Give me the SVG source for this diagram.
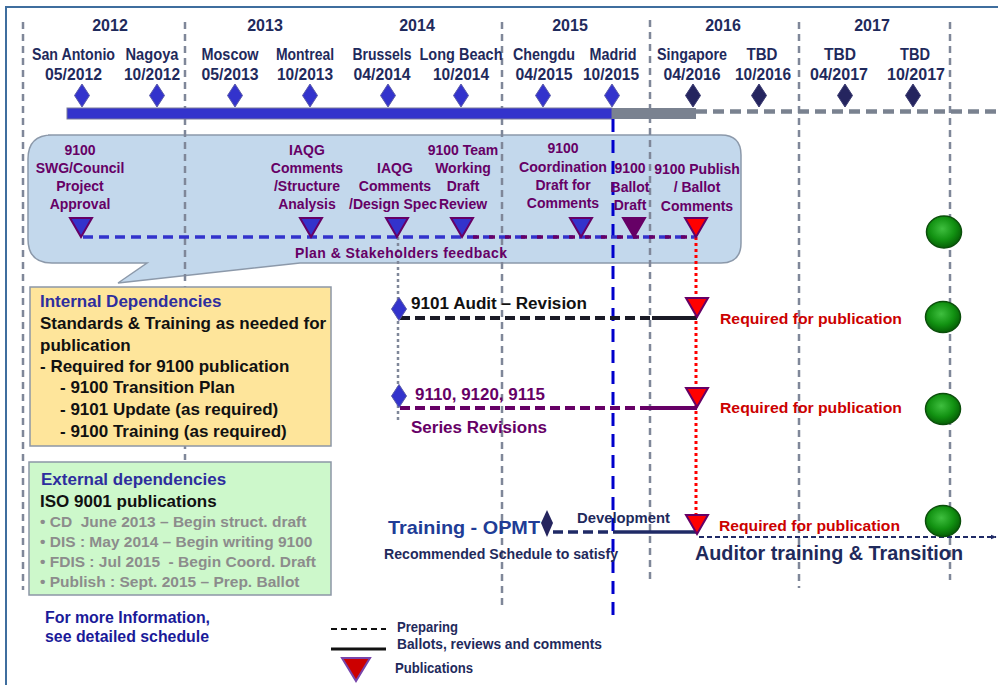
<svg xmlns="http://www.w3.org/2000/svg" xmlns:xlink="http://www.w3.org/1999/xlink" width="998" height="685" viewBox="0 0 998 685">
<defs>
<style>
text{font-family:"Liberation Sans",Arial,sans-serif;font-weight:bold}
.yr{font-size:16px;fill:#1F2A5C;text-anchor:middle}
.ct{font-size:16px;fill:#1F2A5C;text-anchor:middle}
.cl{font-size:14px;fill:#660066;text-anchor:middle}
.div{stroke:#7F8799;stroke-width:2.5;stroke-dasharray:7 5;fill:none}
.dmB{fill:#3333CC;stroke:#5A5AA8;stroke-width:1}
.dmN{fill:#25255F;stroke:#3A3A70;stroke-width:1}
.triB{fill:#3333CC;stroke:#660066;stroke-width:2}
.triP{fill:#660066;stroke:#660066;stroke-width:2}
.triR{fill:#FF0000;stroke:#660066;stroke-width:2}
.req{font-size:15px;fill:#CC0000}
.bk{font-size:17px;fill:#111111}
.hd{font-size:17px;fill:#2E2E9E}
.gy{font-size:15.5px;fill:#8C8C8C;white-space:pre}
.ball{fill:url(#gg);stroke:#0B4F0B;stroke-width:1.5}
</style>
<path id="dia" d="M0,-11.5 L7.5,0 L0,11.5 L-7.5,0 Z"/>
<path id="tri" d="M-11,0 H11 L0,19 Z"/>
<radialGradient id="gg" cx="0.45" cy="0.4" r="0.65">
<stop offset="0" stop-color="#3FBF3F"/>
<stop offset="0.55" stop-color="#129212"/>
<stop offset="1" stop-color="#035503"/>
</radialGradient>
<marker id="arr" viewBox="0 0 10 10" refX="9" refY="5" markerWidth="6" markerHeight="6" orient="auto" markerUnits="userSpaceOnUse">
<path d="M0,1 L10,5 L0,9 Z" fill="#1F2A66"/>
</marker>
</defs>

<rect x="0" y="0" width="998" height="685" fill="#FFFFFF"/>
<path d="M6,685 V7 H998" fill="none" stroke="#3F6E9E" stroke-width="2"/>

<g id="callout">
<path d="M48,135 H721 Q741,135 741,155 V243 Q741,263 721,263 H300 L118,283 L147,263 H52 Q28,263 28,239 V159 Q28,135 52,135 Z" fill="#C3D8EC" stroke="#8C99AA" stroke-width="1.5"/>
</g>

<g id="dividers">
<line class="div" x1="23" y1="22" x2="23" y2="590"/>
<line class="div" x1="185" y1="22" x2="185" y2="460"/>
<line class="div" x1="502" y1="22" x2="502" y2="610"/>
<line class="div" x1="650" y1="20" x2="650" y2="584"/>
<line class="div" x1="799" y1="22" x2="799" y2="588"/>
<line class="div" x1="950" y1="22" x2="950" y2="580"/>
</g>

<g id="years">
<text class="yr" x="110" y="31">2012</text>
<text class="yr" x="265" y="31">2013</text>
<text class="yr" x="417" y="31">2014</text>
<text class="yr" x="570" y="31">2015</text>
<text class="yr" x="723" y="31">2016</text>
<text class="yr" x="872" y="31">2017</text>
</g>

<g id="meetings">
<text class="ct" x="73.5" y="60" textLength="83" lengthAdjust="spacingAndGlyphs">San Antonio</text>
<text class="ct" x="73.5" y="80" textLength="57" lengthAdjust="spacingAndGlyphs">05/2012</text>
<text class="ct" x="152" y="60" textLength="53" lengthAdjust="spacingAndGlyphs">Nagoya</text>
<text class="ct" x="152" y="80" textLength="56" lengthAdjust="spacingAndGlyphs">10/2012</text>
<text class="ct" x="230" y="60" textLength="57" lengthAdjust="spacingAndGlyphs">Moscow</text>
<text class="ct" x="230" y="80" textLength="57" lengthAdjust="spacingAndGlyphs">05/2013</text>
<text class="ct" x="305" y="60" textLength="58" lengthAdjust="spacingAndGlyphs">Montreal</text>
<text class="ct" x="305" y="80" textLength="56" lengthAdjust="spacingAndGlyphs">10/2013</text>
<text class="ct" x="382" y="60" textLength="59" lengthAdjust="spacingAndGlyphs">Brussels</text>
<text class="ct" x="382" y="80" textLength="57" lengthAdjust="spacingAndGlyphs">04/2014</text>
<text class="ct" x="461" y="60" textLength="83" lengthAdjust="spacingAndGlyphs">Long Beach</text>
<text class="ct" x="461" y="80" textLength="56" lengthAdjust="spacingAndGlyphs">10/2014</text>
<text class="ct" x="544" y="60" textLength="62" lengthAdjust="spacingAndGlyphs">Chengdu</text>
<text class="ct" x="544" y="80" textLength="57" lengthAdjust="spacingAndGlyphs">04/2015</text>
<text class="ct" x="613" y="60" textLength="47" lengthAdjust="spacingAndGlyphs">Madrid</text>
<text class="ct" x="611" y="80" textLength="56" lengthAdjust="spacingAndGlyphs">10/2015</text>
<text class="ct" x="692" y="60" textLength="70" lengthAdjust="spacingAndGlyphs">Singapore</text>
<text class="ct" x="692" y="80" textLength="57" lengthAdjust="spacingAndGlyphs">04/2016</text>
<text class="ct" x="762" y="60" textLength="31" lengthAdjust="spacingAndGlyphs">TBD</text>
<text class="ct" x="763" y="80" textLength="56" lengthAdjust="spacingAndGlyphs">10/2016</text>
<text class="ct" x="840" y="60" textLength="32" lengthAdjust="spacingAndGlyphs">TBD</text>
<text class="ct" x="839" y="80" textLength="58" lengthAdjust="spacingAndGlyphs">04/2017</text>
<text class="ct" x="915" y="60" textLength="30" lengthAdjust="spacingAndGlyphs">TBD</text>
<text class="ct" x="916" y="80" textLength="58" lengthAdjust="spacingAndGlyphs">10/2017</text>
</g>

<g id="timeline-bar">
<rect x="67" y="108" width="545" height="11" fill="#3333CC" stroke="#7A7A9A" stroke-width="1"/>
<rect x="612" y="108" width="84" height="11" fill="#7A8290"/>
<line x1="696" y1="111.5" x2="998" y2="111.5" stroke="#7A8290" stroke-width="4.5" stroke-dasharray="11 6"/>
</g>

<g id="meeting-diamonds">
<use href="#dia" class="dmB" x="82" y="95.5"/>
<use href="#dia" class="dmB" x="157" y="95.5"/>
<use href="#dia" class="dmB" x="235" y="95.5"/>
<use href="#dia" class="dmB" x="310" y="95.5"/>
<use href="#dia" class="dmB" x="388" y="95.5"/>
<use href="#dia" class="dmB" x="461" y="95.5"/>
<use href="#dia" class="dmB" x="543" y="95.5"/>
<use href="#dia" class="dmB" x="612" y="95.5"/>
<use href="#dia" class="dmN" x="693" y="95.5"/>
<use href="#dia" class="dmN" x="759" y="95.5"/>
<use href="#dia" class="dmN" x="845" y="95.5"/>
<use href="#dia" class="dmN" x="913" y="95.5"/>
</g>

<g id="connectors">
<line x1="613" y1="119" x2="613" y2="615" stroke="#0000CC" stroke-width="3" stroke-dasharray="13 8"/>
<line x1="398" y1="237" x2="398" y2="420" stroke="#7F8799" stroke-width="2.5" stroke-dasharray="3 3"/>
<line x1="83" y1="237" x2="696" y2="237" stroke="#3333CC" stroke-width="3.5" stroke-dasharray="10 6"/>
<line x1="463" y1="237" x2="690" y2="237" stroke="#660066" stroke-width="3.5" stroke-dasharray="6 10" stroke-dashoffset="-10"/>
<line x1="696" y1="237" x2="696" y2="515" stroke="#FF0000" stroke-width="3" stroke-dasharray="3 3"/>
<line x1="400" y1="318" x2="652" y2="318" stroke="#1A1A26" stroke-width="4" stroke-dasharray="10 5"/>
<line x1="652" y1="318" x2="697" y2="318" stroke="#1A1A26" stroke-width="4"/>
<line x1="400" y1="408" x2="648" y2="408" stroke="#660066" stroke-width="4" stroke-dasharray="10 5"/>
<line x1="648" y1="408" x2="697" y2="408" stroke="#660066" stroke-width="4"/>
<line x1="553" y1="532" x2="620" y2="532" stroke="#1F2A66" stroke-width="3.5" stroke-dasharray="10 5"/>
<line x1="620" y1="532" x2="697" y2="532" stroke="#1F2A66" stroke-width="3.5"/>
<line x1="699" y1="537" x2="996" y2="537" stroke="#1F2A66" stroke-width="2" stroke-dasharray="5 3" marker-end="url(#arr)"/>
</g>

<g id="callout-milestones">
<text class="cl"><tspan x="80" y="155">9100</tspan><tspan x="80" y="173">SWG/Council</tspan><tspan x="80" y="191">Project</tspan><tspan x="80" y="209">Approval</tspan></text>
<use href="#tri" class="triB" x="81" y="218"/>
<text class="cl"><tspan x="307" y="155">IAQG</tspan><tspan x="307" y="173">Comments</tspan><tspan x="307" y="191">/Structure</tspan><tspan x="307" y="209">Analysis</tspan></text>
<use href="#tri" class="triB" x="311" y="218"/>
<text class="cl"><tspan x="395" y="173">IAQG</tspan><tspan x="395" y="191">Comments</tspan><tspan x="393" y="209">/Design Spec</tspan></text>
<use href="#tri" class="triB" x="397" y="218"/>
<text class="cl"><tspan x="463" y="155">9100 Team</tspan><tspan x="463" y="173">Working</tspan><tspan x="463" y="191">Draft</tspan><tspan x="463" y="209">Review</tspan></text>
<use href="#tri" class="triB" x="462" y="218"/>
<text class="cl" x="563" y="153">9100</text>
<text class="cl" x="563" y="172" textLength="88" lengthAdjust="spacingAndGlyphs">Coordination</text>
<text class="cl"><tspan x="563" y="190">Draft for</tspan><tspan x="563" y="208">Comments</tspan></text>
<use href="#tri" class="triB" x="581" y="218"/>
<text class="cl"><tspan x="630" y="173">9100</tspan><tspan x="630" y="192">Ballot</tspan><tspan x="630" y="210">Draft</tspan></text>
<use href="#tri" class="triP" x="634" y="218"/>
<text class="cl"><tspan x="697" y="174">9100 Publish</tspan><tspan x="697" y="192">/ Ballot</tspan><tspan x="697" y="211">Comments</tspan></text>
<use href="#tri" class="triR" x="696" y="218"/>
<text class="cl" x="401" y="258" textLength="212" lengthAdjust="spacing">Plan &amp; Stakeholders feedback</text>
</g>

<g id="row-9101">
<use href="#dia" class="dmB" x="399" y="309"/>
<text x="411" y="309" font-size="16" fill="#111111" textLength="176" lengthAdjust="spacingAndGlyphs">9101 Audit – Revision</text>
<use href="#tri" class="triR" x="697" y="298"/>
<text class="req" x="720" y="324" textLength="182" lengthAdjust="spacingAndGlyphs">Required for publication</text>
<ellipse class="ball" cx="943" cy="317" rx="17.5" ry="15.5"/>
</g>

<g id="row-series">
<use href="#dia" class="dmB" x="399" y="396"/>
<text x="415" y="400" font-size="16" fill="#660066" textLength="130" lengthAdjust="spacingAndGlyphs">9110, 9120, 9115</text>
<text x="411" y="433" font-size="16" fill="#660066" textLength="136" lengthAdjust="spacingAndGlyphs">Series Revisions</text>
<use href="#tri" class="triR" x="697" y="388"/>
<text class="req" x="720" y="413" textLength="182" lengthAdjust="spacingAndGlyphs">Required for publication</text>
<ellipse class="ball" cx="943" cy="409" rx="17.5" ry="15.5"/>
</g>

<g id="row-training">
<text x="388" y="534" font-size="19" fill="#203C96" textLength="152" lengthAdjust="spacingAndGlyphs">Training - OPMT</text>
<path d="M547,510 L553,523 L547,537 L541,523 Z" fill="#25255F"/>
<text x="577" y="523" font-size="14" fill="#1F2A5C" textLength="93" lengthAdjust="spacingAndGlyphs">Development</text>
<use href="#tri" class="triR" x="697" y="515"/>
<text class="req" x="719" y="531" textLength="181" lengthAdjust="spacingAndGlyphs">Required for publication</text>
<ellipse class="ball" cx="943" cy="521" rx="17.5" ry="15.5"/>
<text x="384" y="559" font-size="14" fill="#1F2A5C" textLength="234" lengthAdjust="spacingAndGlyphs">Recommended Schedule to satisfy</text>
<text x="695" y="560" font-size="20" fill="#1F2A5C" textLength="268" lengthAdjust="spacingAndGlyphs">Auditor training &amp; Transition</text>
</g>

<g id="callout-ball">
<ellipse class="ball" cx="944" cy="232" rx="17.5" ry="16"/>
</g>

<g id="internal-dependencies">
<rect x="30" y="287" width="301" height="159" fill="#FEE59B" stroke="#8C96A6" stroke-width="1.5"/>
<text class="hd" x="40" y="307">Internal Dependencies</text>
<text class="bk" x="40" y="329">Standards &amp; Training as needed for</text>
<text class="bk" x="40" y="351">publication</text>
<text class="bk" x="40" y="372">- Required for 9100 publication</text>
<text class="bk" x="60" y="393">- 9100 Transition Plan</text>
<text class="bk" x="60" y="415">- 9101 Update (as required)</text>
<text class="bk" x="60" y="437">- 9100 Training (as required)</text>
</g>

<g id="external-dependencies">
<rect x="29" y="462" width="302" height="133" fill="#CDF8CB" stroke="#8C96A6" stroke-width="1.5"/>
<text class="hd" x="41" y="485">External dependencies</text>
<text class="bk" x="40" y="507">ISO 9001 publications</text>
<text class="gy" x="40" y="527" xml:space="preserve">• CD  June 2013 – Begin struct. draft</text>
<text class="gy" x="40" y="547">• DIS : May 2014 – Begin writing 9100</text>
<text class="gy" x="40" y="567" xml:space="preserve">• FDIS : Jul 2015  - Begin Coord. Draft</text>
<text class="gy" x="40" y="587">• Publish : Sept. 2015 – Prep. Ballot</text>
</g>

<g id="more-info">
<text x="45" y="623" font-size="16" fill="#1A1A99" textLength="165" lengthAdjust="spacingAndGlyphs">For more Information,</text>
<text x="45" y="642" font-size="16" fill="#1A1A99" textLength="164" lengthAdjust="spacingAndGlyphs">see detailed schedule</text>
</g>

<g id="legend">
<line x1="331" y1="629" x2="386" y2="629" stroke="#111111" stroke-width="2" stroke-dasharray="6 4"/>
<text x="397" y="632" font-size="14" fill="#1F2A5C" textLength="61" lengthAdjust="spacingAndGlyphs">Preparing</text>
<line x1="331" y1="649" x2="386" y2="649" stroke="#111111" stroke-width="3"/>
<text x="397" y="649" font-size="14" fill="#1F2A5C" textLength="205" lengthAdjust="spacingAndGlyphs">Ballots, reviews and comments</text>
<path d="M342,658 H370 L356,681 Z" fill="#CC0000" stroke="#7744AA" stroke-width="2"/>
<text x="395" y="673" font-size="14" fill="#1F2A5C" textLength="78" lengthAdjust="spacingAndGlyphs">Publications</text>
</g>
</svg>
